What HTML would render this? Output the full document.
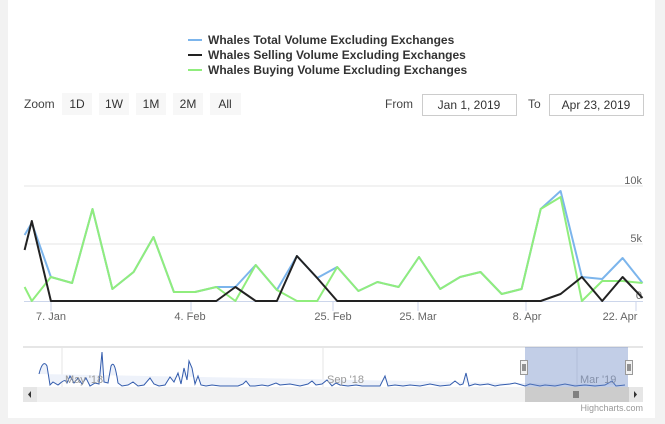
<!DOCTYPE html>
<html><head><meta charset="utf-8"><style>
html,body{margin:0;padding:0;background:#f2f2f2;}
svg{display:block;font-family:"Liberation Sans",sans-serif;}
</style></head><body>
<svg width="665" height="424" viewBox="0 0 665 424">
<rect x="8" y="0" width="647" height="418" fill="#fff"/>
<!-- legend -->
<g font-size="12" font-weight="bold" fill="#333">
<line x1="188" y1="40" x2="202" y2="40" stroke="#7cb5ec" stroke-width="2"/>
<text x="208" y="44">Whales Total Volume Excluding Exchanges</text>
<line x1="188" y1="55" x2="202" y2="55" stroke="#222" stroke-width="2"/>
<text x="208" y="59">Whales Selling Volume Excluding Exchanges</text>
<line x1="188" y1="70" x2="202" y2="70" stroke="#90ed7d" stroke-width="2"/>
<text x="208" y="74">Whales Buying Volume Excluding Exchanges</text>
</g>
<!-- range selector -->
<g font-size="12" fill="#333">
<text x="24" y="108" fill="#444">Zoom</text>
<rect x="62" y="93" width="30" height="22" fill="#f7f7f7"/><text x="77" y="108" text-anchor="middle">1D</text>
<rect x="99" y="93" width="30" height="22" fill="#f7f7f7"/><text x="114" y="108" text-anchor="middle">1W</text>
<rect x="136" y="93" width="30" height="22" fill="#f7f7f7"/><text x="151" y="108" text-anchor="middle">1M</text>
<rect x="173" y="93" width="30" height="22" fill="#f7f7f7"/><text x="188" y="108" text-anchor="middle">2M</text>
<rect x="210" y="93" width="31" height="22" fill="#f7f7f7"/><text x="225" y="108" text-anchor="middle">All</text>
<text x="385" y="108" fill="#444">From</text>
<rect x="422.5" y="94.5" width="94" height="21" fill="#fff" stroke="#ccc"/><text x="469" y="109" text-anchor="middle">Jan 1, 2019</text>
<text x="528" y="108" fill="#444">To</text>
<rect x="549.5" y="94.5" width="94" height="21" fill="#fff" stroke="#ccc"/><text x="596" y="109" text-anchor="middle">Apr 23, 2019</text>
</g>
<!-- grid -->
<g stroke="#e6e6e6" stroke-width="1">
<line x1="24" y1="186" x2="643" y2="186"/>
<line x1="24" y1="244" x2="643" y2="244"/>
</g>
<line x1="24" y1="301.5" x2="643" y2="301.5" stroke="#ccd6eb"/>
<g font-size="11" fill="#666" text-anchor="end">
<text x="642" y="184">10k</text><text x="642" y="242">5k</text><text x="642" y="299">0</text>
</g>
<g stroke="#ccd6eb"><line x1="51" y1="302" x2="51" y2="311"/><line x1="191" y1="302" x2="191" y2="311"/><line x1="333" y1="302" x2="333" y2="311"/><line x1="418" y1="302" x2="418" y2="311"/><line x1="526" y1="302" x2="526" y2="311"/><line x1="636" y1="302" x2="636" y2="311"/></g>
<g font-size="11" fill="#666" text-anchor="middle">
<text x="51" y="320">7. Jan</text><text x="190" y="320">4. Feb</text><text x="333" y="320">25. Feb</text><text x="418" y="320">25. Mar</text><text x="527" y="320">8. Apr</text><text x="620" y="320">22. Apr</text>
</g>
<!-- series -->
<g fill="none" stroke-width="2" stroke-linejoin="round">
<polyline stroke="#7cb5ec" points="24.6,235 31.8,223 50.9,277 72.1,283 92.5,209 112.4,289 133.6,272 153.5,237 173.9,292 195.1,292 216.3,287 235.4,287 255.7,265 276.9,290 296.9,256 317.2,278 337.2,267 358.4,291 377.4,282 398.6,287 419,257 440.2,289 460.1,277 480.5,272 501.7,294 521.6,289 540.7,209 560.6,191 581.9,277 602.2,279 622.6,258 642.5,283"/>
<polyline stroke="#90ed7d" points="24.6,287 31.8,301 50.9,277 72.1,283 92.5,209 112.4,289 133.6,272 153.5,237 173.9,292 195.1,292 216.3,287 235.4,301 255.7,265 276.9,290 296.9,301 317.2,301 337.2,267 358.4,291 377.4,282 398.6,287 419,257 440.2,289 460.1,277 480.5,272 501.7,294 521.6,289 540.7,209 560.6,197 581.9,301 602.2,281 622.6,281 642.5,283"/>
<polyline stroke="#222" points="24.6,250 31.8,221 50.9,301 72.1,301 92.5,301 112.4,301 133.6,301 153.5,301 173.9,301 195.1,301 216.3,301 235.4,287 255.7,301 276.9,301 296.9,256 317.2,278 337.2,301 358.4,301 377.4,301 398.6,301 419,301 440.2,301 460.1,301 480.5,301 501.7,301 521.6,301 540.7,301 560.6,294 581.9,277 602.2,301 622.6,277 642.5,298"/>
</g>
<!-- navigator -->
<line x1="23" y1="347" x2="643" y2="347" stroke="#ccc"/>
<line x1="62" y1="347" x2="62" y2="387" stroke="#e6e6e6"/>
<line x1="323" y1="347" x2="323" y2="387" stroke="#e6e6e6"/>
<line x1="577" y1="347" x2="577" y2="387" stroke="#e6e6e6"/>
<path d="M39,374 C42,362 45,362 47,366 L50,385 L53,382 L58,385 C62,382 65,378 67,383 L70,376 L74,383 L78,378 L82,384 L86,378 L90,386 L95,383 L99,384 L102,352 L104,382 L108,383 L111,366 C114,360 116,370 118,383 L122,386 L128,385 L133,382 L138,386 L144,385 L150,378 L154,384 L159,386 L165,385 L170,377 L174,382 L178,373 L181,384 L184,368 L187,380 L189,361 L192,368 L195,384 L198,376 L201,385 L206,386 L212,385 L220,386 L230,386 L238,386 L243,384 L246,381 L250,386 L255,386 L262,385 L268,386 L276,383 L280,385 L290,384 L300,386 L308,384 L312,381 L316,385 L322,384 L327,380 L332,386 L336,383 L340,385 L348,386 L356,385 L362,386 L368,386 L380,386 L385,376 L388,386 L395,385 L403,386 L410,385 L420,386 L430,384 L440,386 L450,385 L455,381 L460,385 L463,384 L466,373 L469,386 L475,384 L480,385 L488,384 L495,386 L500,385 L510,384 L515,383 L525,386 L530,384 L540,386 L545,385 L555,386 L565,384 L575,386 L585,385 L595,386 L605,385 L612,381 L616,386 L625,385" fill="#eef2fa" stroke="#335cad" stroke-width="1"/>
<g font-size="11" fill="#999"><text x="65" y="383">May '18</text><text x="327" y="383">Sep '18</text><text x="580" y="383">Mar '19</text></g>
<rect x="525" y="347" width="103" height="40" fill="rgba(102,133,194,0.4)"/>
<rect x="520.5" y="360.5" width="7" height="14" fill="#f2f2f2" stroke="#999"/>
<line x1="523" y1="364" x2="523" y2="371" stroke="#333"/><line x1="525" y1="364" x2="525" y2="371" stroke="#333"/>
<rect x="625.5" y="360.5" width="7" height="14" fill="#f2f2f2" stroke="#999"/>
<line x1="628" y1="364" x2="628" y2="371" stroke="#333"/><line x1="630" y1="364" x2="630" y2="371" stroke="#333"/>
<!-- scrollbar -->
<rect x="23" y="387" width="620" height="15" fill="#f2f2f2"/>
<rect x="23" y="387" width="14" height="15" fill="#e6e6e6"/>
<path d="M31,391 L28,394.5 L31,398 Z" fill="#333"/>
<rect x="629" y="387" width="14" height="15" fill="#e6e6e6"/>
<path d="M634,391 L637,394.5 L634,398 Z" fill="#333"/>
<rect x="525" y="387" width="104" height="15" fill="#ccc"/>
<g stroke="#333"><line x1="574" y1="391" x2="574" y2="398"/><line x1="576" y1="391" x2="576" y2="398"/><line x1="578" y1="391" x2="578" y2="398"/></g>
<text x="643" y="411" font-size="9" fill="#999" text-anchor="end">Highcharts.com</text>
</svg>
</body></html>
